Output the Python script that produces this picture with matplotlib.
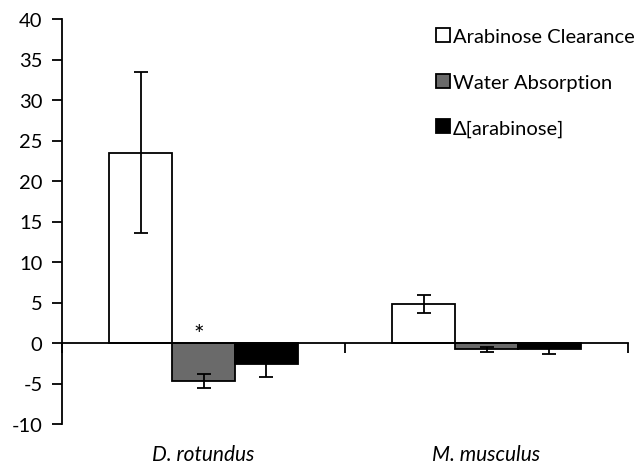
import matplotlib
matplotlib.use("Agg")
import matplotlib.pyplot as plt
import numpy as np

species = ["D. rotundus", "M. musculus"]
series = ["Arabinose Clearance", "Water Absorption", "Δ[arabinose]"]
clearance = [23.5, 4.8]
clearance_err = [9.9, 1.1]
water = [-4.7, -0.75]
water_err = [0.9, 0.3]
delta = [-2.55, -0.7]
delta_err = [1.65, 0.65]
colors = ["white", "#6a6a6a", "black"]

plt.rcParams["font.family"] = ["Lato", "DejaVu Sans"]
plt.rcParams["font.size"] = 14.5
plt.rcParams["axes.unicode_minus"] = False

fig = plt.figure(figsize=(6.44, 4.64), dpi=100)
ax = fig.add_axes([62 / 644, 39 / 464, 566 / 644, 405 / 464])

x = np.arange(len(species))
width = 0.222
values = [clearance, water, delta]
errors = [clearance_err, water_err, delta_err]
for k, (vals, errs, col, lab) in enumerate(zip(values, errors, colors, series)):
    ax.bar(x + (k - 1) * width, vals, width=width, color=col, edgecolor="black",
           linewidth=1.3, label=lab, zorder=2)
    ax.errorbar(x + (k - 1) * width, vals, yerr=errs, fmt="none", ecolor="black",
                elinewidth=1.3, capsize=5, capthick=1.3, zorder=3)

# significance mark above the water absorption bar
ax.text(x[0] - 0.015, 1.0, "*", ha="center", va="center", fontsize=18)

ax.set_xlim(-0.5, len(species) - 0.5)
ax.set_ylim(-10, 40)
ax.set_yticks(np.arange(-10, 41, 5))
ax.tick_params(axis="y", direction="out", length=7, width=1.3, pad=7)

ax.spines["top"].set_visible(False)
ax.spines["right"].set_visible(False)
ax.spines["left"].set_linewidth(1.3)
ax.spines["bottom"].set_position(("data", 0))
ax.spines["bottom"].set_linewidth(1.3)
ax.spines["bottom"].set_zorder(4)
ax.set_xticks(np.arange(len(species) + 1) - 0.5)
ax.set_xticklabels([])
ax.tick_params(axis="x", direction="out", length=7, width=1.3)

for xi, name in zip(x, species):
    ax.text(xi, -0.075, name, transform=ax.get_xaxis_transform(), ha="center",
            va="center", style="italic", fontsize=15)

ax.legend(loc="upper left", bbox_to_anchor=(436 / 644, 1 - 29 / 464),
          bbox_transform=fig.transFigure, frameon=False, borderaxespad=0,
          borderpad=0, handlelength=0.7, handleheight=0.7, handletextpad=0.15,
          labelspacing=1.42, fontsize=14.5)

fig.savefig("out.png", dpi=100)
